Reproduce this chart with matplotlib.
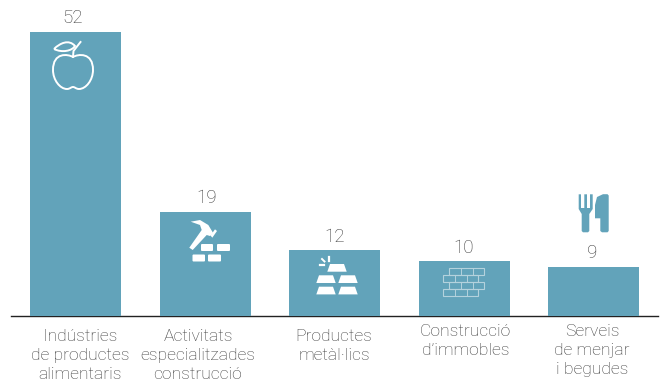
import matplotlib
matplotlib.use('Agg')
import matplotlib.pyplot as plt
from matplotlib.patches import PathPatch, Polygon, FancyBboxPatch, Rectangle
from matplotlib.path import Path

plt.rcParams['font.family'] = ['Roboto', 'DejaVu Sans']

categories = ['Indústries\nde productes\nalimentaris',
              'Activitats\nespecialitzades\nconstrucció',
              'Productes\nmetàl·lics',
              'Construcció\nd’immobles',
              'Serveis\nde menjar\ni begudes']
values = [52, 19, 12, 10, 9]

W, H = 661, 384
BLUE = '#62a3ba'
TEXT = '#3c3c3c'
bar_centers = [75.5, 205.5, 334.5, 464.5, 593.5]
label_centers = [80, 198, 334, 465.5, 592]
label_tops = [329, 329, 329, 324, 324]  # the labels do not share one top line
value_centers = [73, 207, 335, 463.5, 592.5]

fig = plt.figure(figsize=(W / 100, H / 100), dpi=100)
ax = fig.add_axes([11 / W, (H - 316) / H, 647 / W, 290 / H])
ax.bar(bar_centers, values, width=91, color=BLUE, zorder=2)
ax.set_xlim(11, 658)
ax.set_ylim(0, 290 / 5.46)
for s in ['top', 'left', 'right']:
    ax.spines[s].set_visible(False)
ax.spines['bottom'].set_color('#222222')
ax.spines['bottom'].set_linewidth(1.0)
ax.spines['bottom'].set_zorder(1)
ax.set_yticks([])
ax.set_xticks([])

for c, v in zip(value_centers, values):
    ax.annotate(str(v), (c, v), xytext=(0, 3.5), textcoords='offset points', ha='center',
                va='bottom', fontsize=13.5, color=TEXT, fontweight='light')

# overlay in pixel coordinates for the labels and the icons
ov = fig.add_axes([0, 0, 1, 1])
ov.set_xlim(0, W)
ov.set_ylim(H, 0)
ov.axis('off')
ov.patch.set_alpha(0)

for c, t, lab in zip(label_centers, label_tops, categories):
    ov.text(c, t, lab, ha='center', va='top', fontsize=12.6, color=TEXT,
            fontweight='light', linespacing=1.33)

# apple
M, C, L = Path.MOVETO, Path.CURVE4, Path.LINETO
apple = [(73, 57), (68, 54), (53, 52), (53, 70), (53, 80), (60, 89), (67, 89),
         (70, 89), (71, 87), (73, 87), (75, 87), (76, 89), (79, 89), (86, 89),
         (93, 80), (93, 70), (93, 52), (78, 54), (73, 57)]
ov.add_patch(PathPatch(Path(apple, [M] + [C] * 18), fc='none', ec='white', lw=1.4))
leaf = [(54, 49), (60, 43), (69, 39), (75, 46), (72, 51), (62, 53), (54, 49)]
ov.add_patch(PathPatch(Path(leaf, [M] + [C] * 6), fc='none', ec='white', lw=1.4))
ov.plot([73, 73.5, 80.5], [57, 51, 42], color='white', lw=1.4)

# hammer and bricks
hammer = [(190.7, 221.7), (200, 220), (208.3, 225), (213.3, 233.3), (210, 236), (206.7, 235),
          (192.7, 250), (189.3, 247.7), (201.7, 230), (200, 225)]
ov.add_patch(Polygon(hammer, fc='white', ec='none'))
ov.add_patch(Polygon([(210.5, 235.5), (215, 229.3), (217, 231), (212.3, 237.7)], fc='white', ec='none'))
for x0, y0, x1, y1 in [(201, 244, 213, 251), (217, 244, 230, 251),
                       (192.5, 254.5, 205, 261.5), (208, 254.5, 221, 261.5)]:
    ov.add_patch(FancyBboxPatch((x0 + 1, y0 + 1), x1 - x0 - 2, y1 - y0 - 2,
                                boxstyle='round,pad=1', fc='white', ec='none'))

# gold bars
for x0, y0 in [(327.3, 264), (316.3, 275.3), (338.3, 275.3), (316.3, 286.7), (338.3, 286.7)]:
    ov.add_patch(Polygon([(x0, y0 + 7.7), (x0 + 19.4, y0 + 7.7), (x0 + 16.7, y0), (x0 + 2.7, y0)],
                         fc='white', ec='none'))
ov.plot([328.5, 328.5], [256.5, 260.5], color='white', lw=1.6)
ov.plot([322, 324.5], [259, 261.5], color='white', lw=1.4)
ov.plot([320, 323.5], [265, 265], color='white', lw=1.6)

# brick wall
wall = '#b4d2dd'
rows = [(448.5, 267.5), (442.5, 275), (448.5, 282), (442.5, 289)]
for x0, y0 in rows:
    ov.add_patch(Rectangle((x0, y0), 35.5, 7, fc='none', ec=wall, lw=0.8))
    ov.plot([x0 + 12, x0 + 12], [y0, y0 + 7], color=wall, lw=0.7)
    ov.plot([x0 + 24, x0 + 24], [y0, y0 + 7], color=wall, lw=0.7)

# fork and knife
fork = [(578.7, 194.3), (581, 194.3), (581, 208), (584.3, 208), (584.3, 194.3), (587, 194.3),
        (587, 208), (590, 208), (590, 194.3), (592.7, 194.3), (592.7, 209), (589.3, 214),
        (589.3, 231), (588, 232.3), (583, 232.3), (581.7, 231), (581.7, 214), (578.7, 209)]
ov.add_patch(Polygon(fork, fc=BLUE, ec='none'))
knife = [(595, 218.3), (595, 205), (597, 197), (603, 194.2), (607.5, 194.2), (608.7, 195.5),
         (608.7, 231), (607.5, 232.3), (602, 232.3), (600.3, 231), (600.3, 218.3)]
ov.add_patch(Polygon(knife, fc=BLUE, ec='none'))

fig.savefig('out.png', dpi=100)
